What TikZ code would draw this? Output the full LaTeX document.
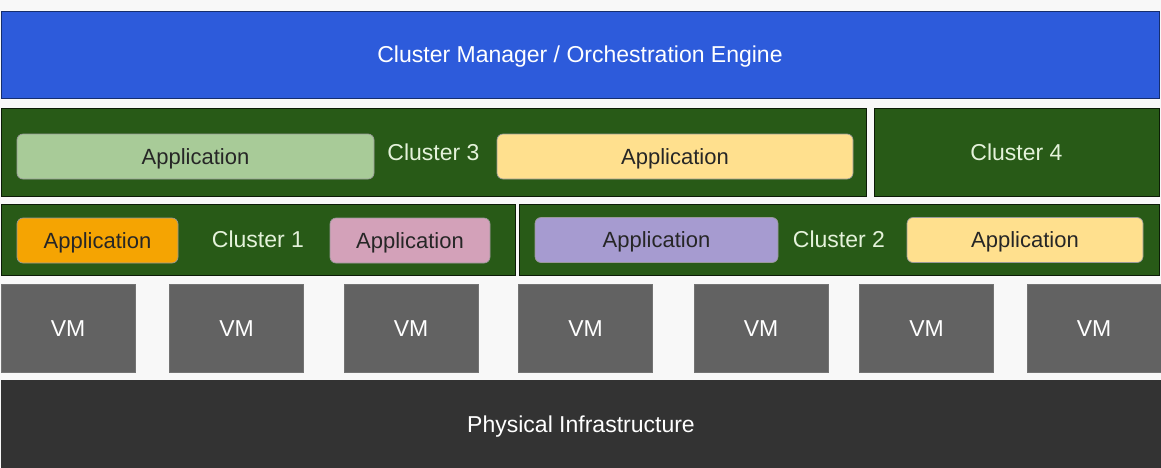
\documentclass[tikz,border=0pt]{standalone}
\usepackage{fontspec}
\setmainfont{Liberation Sans}
\usepackage{xcolor}
\usepackage{tikz}
\usetikzlibrary{positioning}

\definecolor{mgrblue}{HTML}{2D5BDB}
\definecolor{clustergreen}{HTML}{285A17}
\definecolor{clustertext}{HTML}{E4F2DA}
\definecolor{appgreen}{HTML}{A8CB98}
\definecolor{appyellow}{HTML}{FFE08E}
\definecolor{apporange}{HTML}{F5A402}
\definecolor{apppink}{HTML}{D3A1B9}
\definecolor{apppurple}{HTML}{A69BD0}
\definecolor{vmgray}{HTML}{626262}
\definecolor{infragray}{HTML}{333333}
\definecolor{pagebg}{HTML}{F8F8F8}

\begin{document}
\begin{tikzpicture}[x=1pt,y=-1pt,
    every node/.style={inner sep=0pt,outer sep=0pt,text depth=0pt}]
\fill[pagebg] (0,0) rectangle (1161,467);
\useasboundingbox (0,0) rectangle (1161,467);

\begin{scope}[every node/.style={rectangle,draw=black!75,line width=0.9pt,text=white,
                                 font=\fontsize{23}{27}\selectfont,text height=16.5pt,text depth=0pt}]
    \node[fill=mgrblue,draw=mgrblue!50!black,minimum width=1158pt,minimum height=87pt] (mgr) at (580,54.5) {Cluster Manager / Orchestration Engine};
    \node[fill=infragray,draw=black!80,minimum width=1160pt,minimum height=87pt] (infra) at (581,424) {Physical Infrastructure};
\end{scope}

% clusters
\begin{scope}[every node/.style={rectangle,fill=clustergreen,draw=black!70!clustergreen,line width=0.9pt,
                                 text=clustertext,font=\fontsize{23}{27}\selectfont,text height=16.5pt,text depth=0pt}]
    \node[minimum width=865pt,minimum height=88pt] (c3) at (433.5,152) {Cluster 3};
    \node[minimum width=285pt,minimum height=88pt] (c4) at (1016.5,152) {Cluster 4};
    \node[minimum width=514pt,minimum height=71pt] (c1) at (258,239.5) {Cluster 1};
    \node[minimum width=640pt,minimum height=71pt] (c2) at (839,239.5) {Cluster 2};
\end{scope}

% applications
\begin{scope}[every node/.style={rectangle,rounded corners=6pt,draw=black!40,line width=0.7pt,
                                 text=black!85,minimum height=45pt,font=\fontsize{22}{26}\selectfont,
                                 text height=15.8pt,text depth=0pt}]
    \node[fill=appgreen,minimum width=357pt] (app3a) at (195.5,156.5) {Application};
    \node[fill=appyellow,minimum width=356pt] (app3b) at (675,156.5) {Application};
    \node[fill=apporange,minimum width=161pt] (app1a) at (97.5,240.5) {Application};
    \node[fill=apppink,minimum width=160pt] (app1b) at (410,240.5) {Application};
    \node[fill=apppurple,minimum width=243pt] (app2a) at (656.5,240) {Application};
    \node[fill=appyellow,minimum width=236pt] (app2b) at (1025,240) {Application};
\end{scope}

% virtual machines
\begin{scope}[every node/.style={rectangle,fill=vmgray,draw=black!55,line width=0.8pt,
                                 text=white,minimum width=134pt,minimum height=88pt,
                                 font=\fontsize{23}{27}\selectfont,text height=16.5pt,text depth=0pt}]
    \foreach \x/\n in {68/1,236.5/2,411/3,585.5/4,761/5,926.5/6,1094/7}
        \node (vm\n) at (\x,328) {VM};
\end{scope}

\end{tikzpicture}
\end{document}
